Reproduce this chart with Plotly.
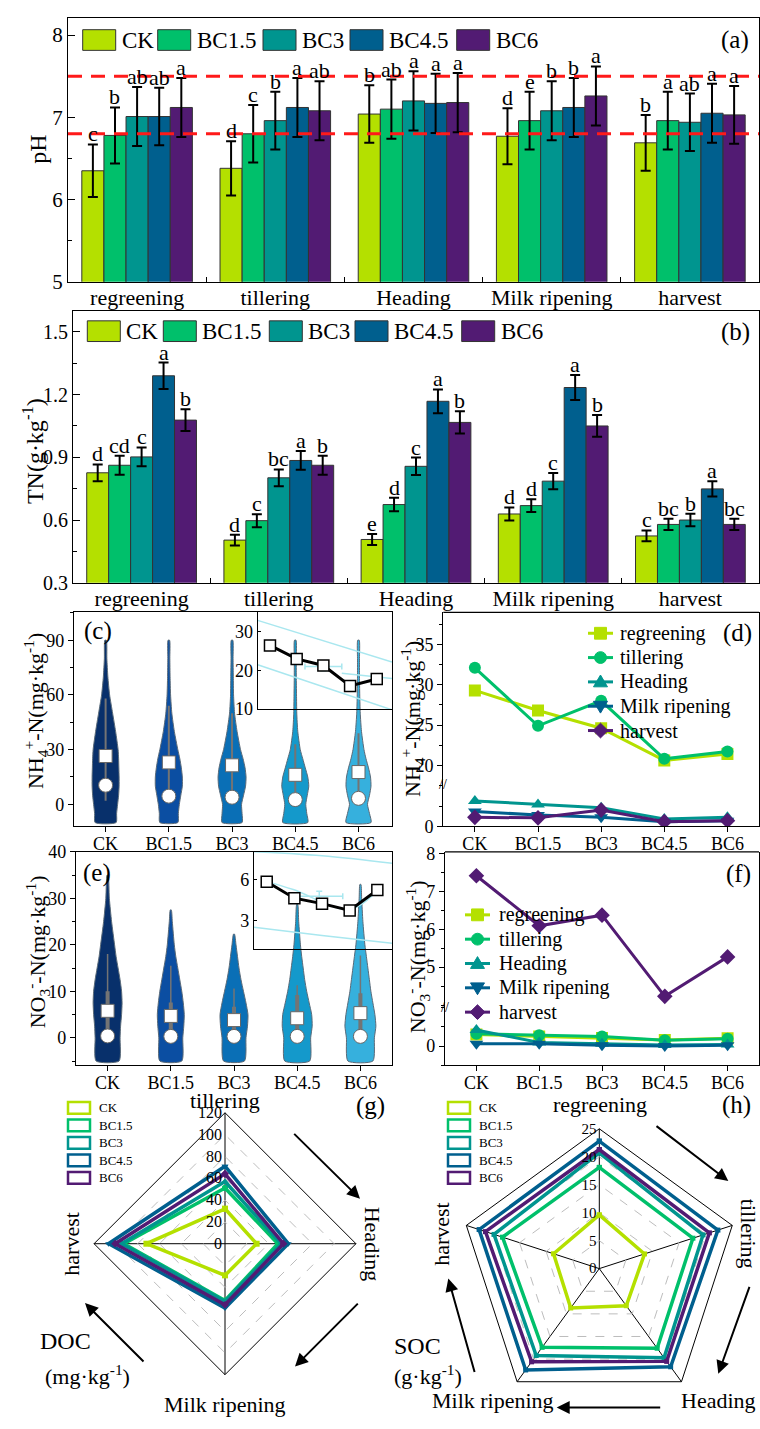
import plotly.graph_objects as go

W, H = 760, 1429
FONT = "Liberation Serif, Times New Roman, serif"


def fx(x):
    return x / W


def fy(y):
    return 1 - y / H


treatments = ["CK", "BC1.5", "BC3", "BC4.5", "BC6"]
stages = ["regreening", "tillering", "Heading", "Milk ripening", "harvest"]

# ---------------- (a) pH ----------------
ph_CK = [6.35, 6.38, 7.04, 6.77, 6.69]
ph_BC15 = [6.78, 6.80, 7.10, 6.96, 6.96]
ph_BC3 = [7.01, 6.96, 7.20, 7.08, 6.94]
ph_BC45 = [7.01, 7.12, 7.17, 7.12, 7.05]
ph_BC6 = [7.12, 7.08, 7.18, 7.26, 7.03]
ph_err_CK = [0.32, 0.33, 0.35, 0.34, 0.34]
ph_err_BC15 = [0.34, 0.35, 0.36, 0.35, 0.35]
ph_err_BC3 = [0.36, 0.35, 0.36, 0.36, 0.35]
ph_err_BC45 = [0.35, 0.36, 0.36, 0.36, 0.36]
ph_err_BC6 = [0.36, 0.36, 0.36, 0.36, 0.35]
ph_let_CK = ["c", "d", "b", "d", "b"]
ph_let_BC15 = ["b", "c", "ab", "e", "a"]
ph_let_BC3 = ["ab", "b", "a", "b", "ab"]
ph_let_BC45 = ["ab", "a", "a", "b", "a"]
ph_let_BC6 = ["a", "ab", "a", "a", "a"]
ph_ref_lines = [7.5, 6.8]

# ---------------- (b) TN ----------------
tn_CK = [0.826, 0.504, 0.507, 0.629, 0.524]
tn_BC15 = [0.862, 0.597, 0.674, 0.669, 0.579]
tn_BC3 = [0.902, 0.802, 0.857, 0.786, 0.600]
tn_BC45 = [1.290, 0.885, 1.168, 1.234, 0.749]
tn_BC6 = [1.078, 0.862, 1.067, 1.050, 0.579]
tn_err_CK = [0.040, 0.026, 0.026, 0.031, 0.026]
tn_err_BC15 = [0.045, 0.031, 0.032, 0.031, 0.027]
tn_err_BC3 = [0.045, 0.040, 0.042, 0.039, 0.030]
tn_err_BC45 = [0.063, 0.045, 0.057, 0.060, 0.036]
tn_err_BC6 = [0.052, 0.045, 0.053, 0.052, 0.027]
tn_let_CK = ["d", "d", "e", "d", "c"]
tn_let_BC15 = ["cd", "c", "d", "d", "bc"]
tn_let_BC3 = ["c", "bc", "c", "c", "b"]
tn_let_BC45 = ["a", "a", "a", "a", "a"]
tn_let_BC6 = ["b", "b", "b", "b", "bc"]

# ---------------- (c) NH4+ violins ----------------
c_levels = [-10, -5, 0, 5, 10, 15, 20, 25, 30, 40, 50, 60, 70, 80, 90]
c_dens_CK = [21, 22, 24, 26, 27, 27, 26.5, 26, 25, 20, 14, 8, 4.5, 2.5, 1.5]
c_dens_BC15 = [18, 19, 21, 24, 27, 27, 25, 22, 18, 11, 6, 3.5, 2.5, 2, 1.5]
c_dens_BC3 = [20, 20, 19, 23, 27, 28, 26, 22, 17, 10, 5, 3, 2.5, 2, 1.5]
c_dens_BC45 = [25, 23, 21, 24, 27, 25, 20, 15, 10, 5, 3, 2.5, 2, 2, 1.5]
c_dens_BC6 = [25, 22, 18, 22, 25, 24, 20, 15, 11, 6, 3.5, 2.5, 2, 2, 1.5]
c_mean = [26.5, 23.0, 21.4, 16.2, 17.7]
c_median = [10.5, 4.5, 3.9, 2.6, 3.3]
c_whisk_lo = [2, 1, 1, 0.5, 0.5]
c_whisk_hi = [58, 54, 50, 33, 39]
# inset of (c)
inset_c_vals = [26.5, 23.0, 21.3, 16.0, 17.8]
inset_c_band_x = [0.54, 5.57]
inset_c_band_up = [33.0, 22.2]
inset_c_band_lo = [21.5, 9.8]
inset_c_mid_x = [3.69, 5.57]
inset_c_mid_y = [19.3, 17.9]
inset_c_pt = [3.0, 21.05, 0.69, 1.1]

# ---------------- (d) NH4+ lines ----------------
d_regreening = [29.3, 26.8, 24.6, 20.6, 21.4]
d_tillering = [32.1, 24.9, 28.0, 20.8, 21.7]
d_heading = [3.13, 2.7, 2.3, 0.9, 1.1]
d_milk = [1.83, 1.38, 1.1, 0.57, 0.69]
d_harvest = [1.1, 1.04, 2.0, 0.57, 0.69]

# ---------------- (e) NO3- violins ----------------
e_lev_CK = [-5, 0, 2.5, 5, 7.5, 10, 12.5, 15, 17.5, 20, 25, 30, 35]
e_dens_CK = [23, 25, 26, 28, 29, 28, 25, 21, 17, 14, 8, 3.5, 1]
e_lev_BC15 = [-5, 0, 2.5, 5, 7.5, 10, 12.5, 15, 17.5, 20, 25, 27.5]
e_dens_BC15 = [22, 24, 26, 27, 25, 22, 18, 14, 10, 7, 3, 1]
e_lev_BC3 = [-5, 0, 2.5, 5, 7.5, 10, 12.5, 15, 17.5, 20, 22.3]
e_dens_BC3 = [21, 24, 27, 28, 24, 19, 14, 10, 7, 4, 1]
e_lev_BC45 = [-5, 0, 2.5, 5, 7.5, 10, 12.5, 15, 17.5, 20, 25, 28.7]
e_dens_BC45 = [25, 27, 30, 29, 24, 19, 15, 12, 9, 6.5, 3, 1]
e_lev_BC6 = [-5, 0, 2.5, 5, 7.5, 10, 12.5, 15, 17.5, 20, 25, 30, 33]
e_dens_BC6 = [25, 28, 31, 29, 25, 21, 18, 15, 12, 9, 5, 2.5, 1]
e_mean = [5.8, 4.7, 3.8, 4.2, 5.3]
e_median = [0.4, 0.3, 0.3, 0.3, 0.3]
e_whisk_lo = [0, 0, 0, 0, 0]
e_whisk_hi = [18, 15.5, 10.6, 11.3, 17.7]
e_q1 = [1.0, 0.8, 0.8, 0.8, 0.8]
e_q3 = [10, 7.6, 6.7, 9.2, 9.6]
# inset of (e)
inset_e_vals = [5.85, 4.65, 4.25, 3.75, 5.25]
inset_e_up_x = [0.54, 3.0, 5.53]
inset_e_up_y = [8.05, 7.75, 7.2]
inset_e_lo_x = [0.54, 3.0, 5.53]
inset_e_lo_y = [2.52, 1.92, 1.35]
inset_e_mid_x = [1.0, 1.96, 4.0, 5.09]
inset_e_mid_y = [5.88, 5.28, 3.85, 5.4]
inset_e_pt = [2.9, 4.8, 0.85, 0.36]

# ---------------- (f) NO3- lines ----------------
f_regreening = [0.30, 0.25, 0.21, 0.16, 0.20]
f_tillering = [0.32, 0.28, 0.25, 0.15, 0.19]
f_heading = [0.42, 0.09, 0.06, 0.03, 0.04]
f_milk = [0.06, 0.06, 0.02, 0.0, 0.02]
f_harvest = [7.41, 6.09, 6.37, 4.23, 5.27]

# ---------------- (g) DOC radar ----------------
g_cats = ["tillering", "Heading", "Milk ripening", "harvest"]
doc_CK = [32, 29, 29, 72]
doc_BC15 = [51, 48.5, 52, 92.7]
doc_BC3 = [57, 51.5, 53, 94.8]
doc_BC45 = [71, 58, 59, 106.7]
doc_BC6 = [64, 53.6, 56, 100.7]

# ---------------- (h) SOC radar ----------------
h_cats = ["regreening", "tillering", "Heading", "Milk ripening", "harvest"]
soc_CK = [9.6, 8.5, 8.2, 8.7, 8.6]
soc_BC15 = [18.1, 17.6, 17.6, 17.4, 18.2]
soc_BC3 = [20.7, 19.5, 19.7, 19.2, 19.8]
soc_BC45 = [22.8, 22.3, 21.7, 22.4, 22.6]
soc_BC6 = [21.3, 20.7, 20.5, 20.6, 21.4]

# ---------------- styles ----------------
bar_colors = ["#b4e000", "#00c06b", "#00958f", "#005f8e", "#521b73"]
violin_colors = ["#08306b", "#0b4ea2", "#0a6fb6", "#1499cb", "#36b0dd"]
symbols = ["square", "circle", "triangle-up", "triangle-down", "diamond"]
CYAN = "#a9e7ef"

fig = go.Figure()
ann = []
shapes = []


def label(x, y, s, size, angle=0, xanchor="center", yanchor="middle"):
    ann.append(dict(x=fx(x), y=fy(y), xref="paper", yref="paper", text=s,
                    showarrow=False, textangle=angle, xanchor=xanchor,
                    yanchor=yanchor,
                    font=dict(size=size, family=FONT, color="black")))


def arrow(x0, y0, x1, y1):
    ann.append(dict(x=fx(x1), y=fy(y1), xref="paper", yref="paper", text="",
                    showarrow=True, ax=x0 - x1, ay=y0 - y1, axref="pixel",
                    ayref="pixel", arrowhead=2, arrowsize=1.3, arrowwidth=2,
                    arrowcolor="black"))


def poly_path(pts):
    s = "M " + " L ".join("%.5f,%.5f" % (fx(a), fy(b)) for a, b in pts)
    return s + " Z"


def legend_symbol(sym, cx, cy, color, s=6):
    base = dict(xref="paper", yref="paper", fillcolor=color,
                line=dict(color=color, width=1))
    if sym == "square":
        d = dict(type="rect", x0=fx(cx - s), x1=fx(cx + s), y0=fy(cy + s),
                 y1=fy(cy - s))
    elif sym == "circle":
        d = dict(type="circle", x0=fx(cx - s), x1=fx(cx + s), y0=fy(cy + s),
                 y1=fy(cy - s))
    elif sym == "triangle-up":
        d = dict(type="path", path=poly_path([(cx, cy - s - 1),
                                              (cx + s + 1, cy + s - 1),
                                              (cx - s - 1, cy + s - 1)]))
    elif sym == "triangle-down":
        d = dict(type="path", path=poly_path([(cx, cy + s + 1),
                                              (cx + s + 1, cy - s + 1),
                                              (cx - s - 1, cy - s + 1)]))
    else:
        d = dict(type="path", path=poly_path([(cx, cy - s - 1.5),
                                              (cx + s + 1.5, cy),
                                              (cx, cy + s + 1.5),
                                              (cx - s - 1.5, cy)]))
    d.update(base)
    shapes.append(d)


# ---------------- bars (a), (b) ----------------
BW = 0.16
bar_sets = [
    ("x", "y", [ph_CK, ph_BC15, ph_BC3, ph_BC45, ph_BC6],
     [ph_err_CK, ph_err_BC15, ph_err_BC3, ph_err_BC45, ph_err_BC6],
     [ph_let_CK, ph_let_BC15, ph_let_BC3, ph_let_BC45, ph_let_BC6]),
    ("x2", "y2", [tn_CK, tn_BC15, tn_BC3, tn_BC45, tn_BC6],
     [tn_err_CK, tn_err_BC15, tn_err_BC3, tn_err_BC45, tn_err_BC6],
     [tn_let_CK, tn_let_BC15, tn_let_BC3, tn_let_BC45, tn_let_BC6]),
]
for xa, ya, vals, errs, lets in bar_sets:
    for j in range(len(treatments)):
        xs = [g + (j - 2) * BW for g in range(len(stages))]
        fig.add_trace(go.Bar(
            x=xs, y=vals[j], width=BW, xaxis=xa, yaxis=ya, showlegend=False,
            marker=dict(color=bar_colors[j], line=dict(color="#333", width=1)),
            error_y=dict(type="data", array=errs[j], color="black",
                         thickness=2, width=5)))
        for g in range(len(stages)):
            ann.append(dict(x=xs[g], y=vals[j][g] + errs[j][g], xref=xa,
                            yref=ya, text=lets[j][g], showarrow=False,
                            yanchor="bottom", yshift=-4,
                            font=dict(size=22, family=FONT, color="black")))

for v in ph_ref_lines:
    shapes.append(dict(type="line", xref="x", yref="y", x0=-0.5, x1=4.5,
                       y0=v, y1=v,
                       line=dict(color="#ff1a1a", width=3, dash="14px,9px")))

# custom legends for (a) and (b)
leg_a_x = [82.7, 157.7, 263, 350, 456.7]
leg_b_x = [87.3, 163.3, 269.3, 355, 461.7]
for xs, yc in [(leg_a_x, 30.5), (leg_b_x, 326.2)]:
    for j, t in enumerate(treatments):
        shapes.append(dict(type="rect", xref="paper", yref="paper",
                           x0=fx(xs[j]), x1=fx(xs[j] + 33), y0=fy(yc + 10.5),
                           y1=fy(yc - 10.5), fillcolor=bar_colors[j],
                           line=dict(color="#333", width=1)))
        label(xs[j] + 37, yc, t, 23, xanchor="left")

# ---------------- violins (c), (e) ----------------
def add_violin(xa, ya, center, levels, dens, color, scale):
    xl = [center - d * scale for d in dens]
    xr = [center + d * scale for d in dens]
    xx = xl + xr[::-1] + [xl[0]]
    yy = list(levels) + list(levels)[::-1] + [levels[0]]
    fig.add_trace(go.Scatter(x=xx, y=yy, xaxis=xa, yaxis=ya, mode="lines",
                             fill="toself", fillcolor=color,
                             line=dict(color="#5a6a78", width=1, shape="spline",
                                       smoothing=0.6),
                             showlegend=False, hoverinfo="skip"))


c_dens = [c_dens_CK, c_dens_BC15, c_dens_BC3, c_dens_BC45, c_dens_BC6]
for j in range(5):
    add_violin("x3", "y3", j, c_levels, c_dens[j], violin_colors[j], 0.5 / 63.2)
    fig.add_trace(go.Scatter(x=[j, j], y=[c_whisk_lo[j], c_whisk_hi[j]],
                             xaxis="x3", yaxis="y3", mode="lines",
                             line=dict(color="#747474", width=2),
                             showlegend=False))
fig.add_trace(go.Scatter(x=list(range(5)), y=c_median, xaxis="x3", yaxis="y3",
                         mode="markers", showlegend=False,
                         marker=dict(symbol="circle", size=14, color="white",
                                     line=dict(color="#666", width=1))))
fig.add_trace(go.Scatter(x=list(range(5)), y=c_mean, xaxis="x3", yaxis="y3",
                         mode="markers", showlegend=False,
                         marker=dict(symbol="square", size=13, color="white",
                                     line=dict(color="#666", width=1))))

e_lev = [e_lev_CK, e_lev_BC15, e_lev_BC3, e_lev_BC45, e_lev_BC6]
e_dens = [e_dens_CK, e_dens_BC15, e_dens_BC3, e_dens_BC45, e_dens_BC6]
for j in range(5):
    add_violin("x6", "y7", j, e_lev[j], e_dens[j], violin_colors[j], 0.5 / 63.3)
    fig.add_trace(go.Scatter(x=[j, j], y=[e_whisk_lo[j], e_whisk_hi[j]],
                             xaxis="x6", yaxis="y7", mode="lines",
                             line=dict(color="#747474", width=1.5),
                             showlegend=False))
    fig.add_trace(go.Scatter(x=[j, j], y=[e_q1[j], e_q3[j]],
                             xaxis="x6", yaxis="y7", mode="lines",
                             line=dict(color="#747474", width=4),
                             showlegend=False))
fig.add_trace(go.Scatter(x=list(range(5)), y=e_median, xaxis="x6", yaxis="y7",
                         mode="markers", showlegend=False,
                         marker=dict(symbol="circle", size=14, color="white",
                                     line=dict(color="#666", width=1))))
fig.add_trace(go.Scatter(x=list(range(5)), y=e_mean, xaxis="x6", yaxis="y7",
                         mode="markers", showlegend=False,
                         marker=dict(symbol="square", size=13, color="white",
                                     line=dict(color="#666", width=1))))

# insets
def cyan_line(xa, ya, xs, ys):
    fig.add_trace(go.Scatter(x=xs, y=ys, xaxis=xa, yaxis=ya, mode="lines",
                             line=dict(color=CYAN, width=1.5, shape="spline"),
                             showlegend=False))


def cyan_point(xa, ya, p):
    fig.add_trace(go.Scatter(x=[p[0]], y=[p[1]], xaxis=xa, yaxis=ya,
                             mode="markers", showlegend=False,
                             marker=dict(size=1, color=CYAN),
                             error_x=dict(type="data", array=[p[2]], color=CYAN,
                                          thickness=1.5, width=3),
                             error_y=dict(type="data", array=[p[3]], color=CYAN,
                                          thickness=1.5, width=3)))


cyan_line("x4", "y4", inset_c_band_x, inset_c_band_up)
cyan_line("x4", "y4", inset_c_band_x, inset_c_band_lo)
cyan_line("x4", "y4", inset_c_mid_x, inset_c_mid_y)
cyan_point("x4", "y4", inset_c_pt)
fig.add_trace(go.Scatter(x=[1, 2, 3, 4, 5], y=inset_c_vals, xaxis="x4",
                         yaxis="y4", mode="lines+markers", showlegend=False,
                         line=dict(color="black", width=3),
                         marker=dict(symbol="square", size=11, color="white",
                                     line=dict(color="black", width=1.5))))

cyan_line("x7", "y8", inset_e_up_x, inset_e_up_y)
cyan_line("x7", "y8", inset_e_lo_x, inset_e_lo_y)
cyan_line("x7", "y8", inset_e_mid_x, inset_e_mid_y)
cyan_point("x7", "y8", inset_e_pt)
fig.add_trace(go.Scatter(x=[1, 2, 3, 4, 5], y=inset_e_vals, xaxis="x7",
                         yaxis="y8", mode="lines+markers", showlegend=False,
                         line=dict(color="black", width=3),
                         marker=dict(symbol="square", size=11, color="white",
                                     line=dict(color="black", width=1.5))))

# ---------------- lines (d), (f) ----------------
d_series = [d_regreening, d_tillering, d_heading, d_milk, d_harvest]
d_axes = ["y6", "y6", "y5", "y5", "y5"]
f_series = [f_regreening, f_tillering, f_heading, f_milk, f_harvest]
f_axes = ["y9", "y9", "y9", "y9", "y10"]
for vals_list, axes_list, xa in [(d_series, d_axes, "x5"),
                                 (f_series, f_axes, "x8")]:
    for k in range(5):
        fig.add_trace(go.Scatter(
            x=list(range(5)), y=vals_list[k], xaxis=xa, yaxis=axes_list[k],
            mode="lines+markers", name=stages[k], showlegend=False,
            line=dict(color=bar_colors[k], width=3),
            marker=dict(symbol=symbols[k], size=12, color=bar_colors[k])))

# custom legends for (d), (f)
for lx0, lx1, tx, y0 in [(588, 613, 618, 633), (465, 490, 496.7, 919)]:
    for k in range(5):
        yc = y0 + 24.7 * k
        shapes.append(dict(type="line", xref="paper", yref="paper",
                           x0=fx(lx0), x1=fx(lx1), y0=fy(yc), y1=fy(yc),
                           line=dict(color=bar_colors[k], width=3)))
        legend_symbol(symbols[k], (lx0 + lx1) / 2, yc, bar_colors[k])
        label(tx, yc, stages[k], 20, xanchor="left")

# ---------------- radars (g), (h) ----------------
doc = [doc_CK, doc_BC15, doc_BC3, doc_BC45, doc_BC6]
soc = [soc_CK, soc_BC15, soc_BC3, soc_BC45, soc_BC6]
for j in range(5):
    fig.add_trace(go.Scatterpolar(
        r=doc[j] + [doc[j][0]], theta=g_cats + [g_cats[0]], subplot="polar",
        mode="lines+markers", showlegend=False,
        line=dict(color=bar_colors[j], width=3.5),
        marker=dict(symbol=symbols[j], size=6, color=bar_colors[j])))
    fig.add_trace(go.Scatterpolar(
        r=soc[j] + [soc[j][0]], theta=h_cats + [h_cats[0]], subplot="polar2",
        mode="lines+markers", showlegend=False,
        line=dict(color=bar_colors[j], width=3.5),
        marker=dict(symbol="square", size=5, color=bar_colors[j])))

# radar legends
for lx in [68, 448]:
    for j, t in enumerate(treatments):
        yc = 1115 + 17.8 * j
        shapes.append(dict(type="rect", xref="paper", yref="paper",
                           x0=fx(lx), x1=fx(lx + 22), y0=fy(yc + 6),
                           y1=fy(yc - 6),
                           line=dict(color=bar_colors[j], width=2.5)))
        label(lx + 29, yc, t, 13, xanchor="left")

# ---------------- frames for broken axes ----------------
for (x0, x1, y) in [(443.3, 759, 611.7), (445, 759, 855)]:
    shapes.append(dict(type="line", xref="paper", yref="paper", x0=fx(x0),
                       x1=fx(x1), y0=fy(y), y1=fy(y),
                       line=dict(color="black", width=1.2)))
label(443.3, 786.7, "//", 14)
label(445, 1013.3, "//", 14)

# ---------------- text labels ----------------
label(735, 30, "(a)", 25)
label(735, 327, "(b)", 25)
label(98, 631, "(c)", 25)
label(737, 633, "(d)", 25)
label(97, 877, "(e)", 25)
label(738, 878, "(f)", 25)
label(370, 1113, "(g)", 25)
label(736, 1112, "(h)", 25)

label(38, 142, "pH", 24, angle=-90)
label(33, 448, "TN(g·kg<sup>-1</sup>)", 24, angle=-90)
label(35, 712, "NH<sub>4</sub><sup>+</sup>-N(mg·kg<sup>-1</sup>)", 22, angle=-90)
label(413, 720, "NH<sub>4</sub><sup>+</sup>-N(mg·kg<sup>-1</sup>)", 22, angle=-90)
label(37, 957, "NO<sub>3</sub><sup>-</sup>-N(mg·kg<sup>-1</sup>)", 22, angle=-90)
label(417, 962, "NO<sub>3</sub><sup>-</sup>-N(mg·kg<sup>-1</sup>)", 22, angle=-90)

# radar (g)
label(225, 1108, "tillering", 22)
label(372, 1253, "Heading", 22, angle=90)
label(225, 1416, "Milk ripening", 22)
label(72, 1253, "harvest", 22, angle=-90)
label(65, 1352, "DOC", 24)
label(87, 1386, "(mg·kg<sup>-1</sup>)", 22)
arrow(292.7, 1141, 360, 1207.3)
arrow(359.3, 1313.3, 295, 1377.7)
arrow(145, 1373.3, 85, 1313.3)

# radar (h)
label(600, 1112, "regreening", 22)
label(748, 1243, "tillering", 22, angle=90)
label(718, 1412, "Heading", 22)
label(493, 1412, "Milk ripening", 22)
label(442, 1243, "harvest", 22, angle=-90)
label(417, 1357, "SOC", 24)
label(428, 1386, "(g·kg<sup>-1</sup>)", 22)
arrow(655, 1133.3, 728.3, 1189.3)
arrow(750, 1296.7, 718.3, 1385)
arrow(661.7, 1419.3, 556.7, 1419.3)
arrow(475, 1383.3, 448.3, 1288.3)

# ---------------- axes ----------------
def axis(**kw):
    base = dict(showline=True, linecolor="black", linewidth=1.2, mirror=True,
                ticks="outside", tickcolor="black", ticklen=5, showgrid=False,
                zeroline=False,
                tickfont=dict(size=18, family=FONT, color="black"))
    base.update(kw)
    return base


bnd = [0.5, 1.5, 2.5, 3.5]
layout_axes = dict(
    xaxis=axis(domain=[fx(68), fx(759)], range=[-0.5, 4.5], anchor="y",
               tickvals=list(range(5)), ticktext=stages, ticks="",
               ticklabelstandoff=-4,
               tickfont=dict(size=22, family=FONT, color="black"),
               minor=dict(tickmode="array", tickvals=bnd, ticks="inside",
                          ticklen=5, tickcolor="black")),
    yaxis=axis(domain=[fy(276), fy(8)], range=[5, 8.21], anchor="x",
               tickvals=[5, 6, 7, 8], ticks="inside", ticklen=7,
               tickfont=dict(size=21, family=FONT, color="black"),
               minor=dict(dtick=0.5, ticks="inside", ticklen=4,
                          tickcolor="black")),
    xaxis2=axis(domain=[fx(73), fx(759)], range=[-0.5, 4.5], anchor="y2",
                tickvals=list(range(5)), ticktext=stages, ticks="",
                ticklabelstandoff=-4,
                tickfont=dict(size=22, family=FONT, color="black"),
                minor=dict(tickmode="array", tickvals=bnd, ticks="inside",
                           ticklen=5, tickcolor="black")),
    yaxis2=axis(domain=[fy(581.7), fy(305.7)], range=[0.3, 1.6], anchor="x2",
                tickvals=[0.3, 0.6, 0.9, 1.2, 1.5],
                ticktext=["0.3", "0.6", "0.9", "1.2", "1.5"],
                ticks="inside", ticklen=7,
                tickfont=dict(size=20, family=FONT, color="black"),
                minor=dict(dtick=0.15, tick0=0.3, ticks="inside", ticklen=4,
                           tickcolor="black")),
    # (c)
    xaxis3=axis(domain=[fx(74), fx(392)], range=[-0.5, 4.53], anchor="y3",
                tickvals=list(range(5)), ticktext=treatments,
                ticklabelstandoff=-4),
    yaxis3=axis(domain=[fy(829), fy(611.7)], range=[-12, 105.3], anchor="x3",
                tickvals=[0, 30, 60, 90],
                minor=dict(dtick=15, ticks="outside", ticklen=3,
                           tickcolor="black")),
    # inset (c)
    xaxis4=axis(domain=[fx(257.7), fx(392)], range=[0.54, 5.57], anchor="y4",
                showticklabels=False, ticks=""),
    yaxis4=axis(domain=[fy(710), fy(611.7)], range=[10, 35.1], anchor="x4",
                tickvals=[10, 20, 30], ticks="inside", ticklen=3),
    # (d)
    xaxis5=axis(domain=[fx(443.3), fx(759)], range=[-0.5, 4.5], anchor="y5",
                tickvals=list(range(5)), ticktext=treatments, mirror=False,
                ticklabelstandoff=-4),
    yaxis5=axis(domain=[fy(829), fy(786.7)], range=[0, 5.16], anchor="x5",
                tickvals=[0], minor=dict(dtick=2.5, ticks="outside", ticklen=3,
                                         tickcolor="black")),
    yaxis6=axis(domain=[fy(786.7), fy(611.7)], range=[17.6, 39.0], anchor="x5",
                tickvals=[20, 25, 30, 35],
                minor=dict(dtick=2.5, ticks="outside", ticklen=3,
                           tickcolor="black")),
    # (e)
    xaxis6=axis(domain=[fx(76), fx(392)], range=[-0.5, 4.5], anchor="y7",
                tickvals=list(range(5)), ticktext=treatments,
                ticklabelstandoff=-4),
    yaxis7=axis(domain=[fy(1071.7), fy(855)], range=[-5.9, 40], anchor="x6",
                tickvals=[0, 10, 20, 30, 40],
                minor=dict(dtick=5, ticks="outside", ticklen=3,
                           tickcolor="black")),
    # inset (e)
    xaxis7=axis(domain=[fx(254), fx(392)], range=[0.54, 5.53], anchor="y8",
                showticklabels=False, ticks=""),
    yaxis8=axis(domain=[fy(953.3), fy(855)], range=[0.96, 8.04], anchor="x7",
                tickvals=[3, 6], ticks="inside", ticklen=3),
    # (f)
    xaxis8=axis(domain=[fx(445), fx(759)], range=[-0.5, 4.5], anchor="y9",
                tickvals=list(range(5)), ticktext=treatments, mirror=False,
                ticklabelstandoff=-4),
    yaxis9=axis(domain=[fy(1071.7), fy(1013.3)], range=[-0.5, 1.0], anchor="x8",
                tickvals=[0], minor=dict(dtick=0.5, ticks="outside", ticklen=3,
                                         tickcolor="black")),
    yaxis10=axis(domain=[fy(1013.3), fy(855)], range=[3.93, 8.04], anchor="x8",
                 tickvals=[5, 6, 7, 8],
                 minor=dict(dtick=0.5, ticks="outside", ticklen=3,
                            tickcolor="black")),
)


def polar_cfg(xd, yd, cats, rmax, dt, tsize):
    return dict(
        domain=dict(x=[fx(xd[0]), fx(xd[1])], y=[fy(yd[1]), fy(yd[0])]),
        gridshape="linear", bgcolor="rgba(0,0,0,0)",
        angularaxis=dict(type="category", categoryorder="array",
                         categoryarray=cats, rotation=90,
                         direction="clockwise", showline=True,
                         linecolor="black", linewidth=1, showgrid=True,
                         gridcolor="black", gridwidth=1,
                         showticklabels=False, ticks=""),
        radialaxis=dict(range=[0, rmax], tickvals=list(range(0, rmax + 1, dt)),
                        showline=False, showgrid=True, gridcolor="#bdbdbd",
                        griddash="dash", gridwidth=1, angle=90, tickangle=90,
                        side="counterclockwise", ticks="",
                        tickfont=dict(size=tsize, family=FONT, color="black")),
    )


fig.update_layout(
    width=W, height=H, margin=dict(l=0, r=0, t=0, b=0),
    paper_bgcolor="white", plot_bgcolor="rgba(0,0,0,0)",
    font=dict(family=FONT, color="black"),
    bargap=0.2, bargroupgap=0, showlegend=False,
    annotations=ann, shapes=shapes,
    polar=polar_cfg((92, 358), (1120, 1386), g_cats, 120, 20, 16),
    polar2=polar_cfg((457.3, 741.3), (1136.3, 1420.3), h_cats, 25, 5, 15),
    **layout_axes,
)

fig.write_html("out.html")
